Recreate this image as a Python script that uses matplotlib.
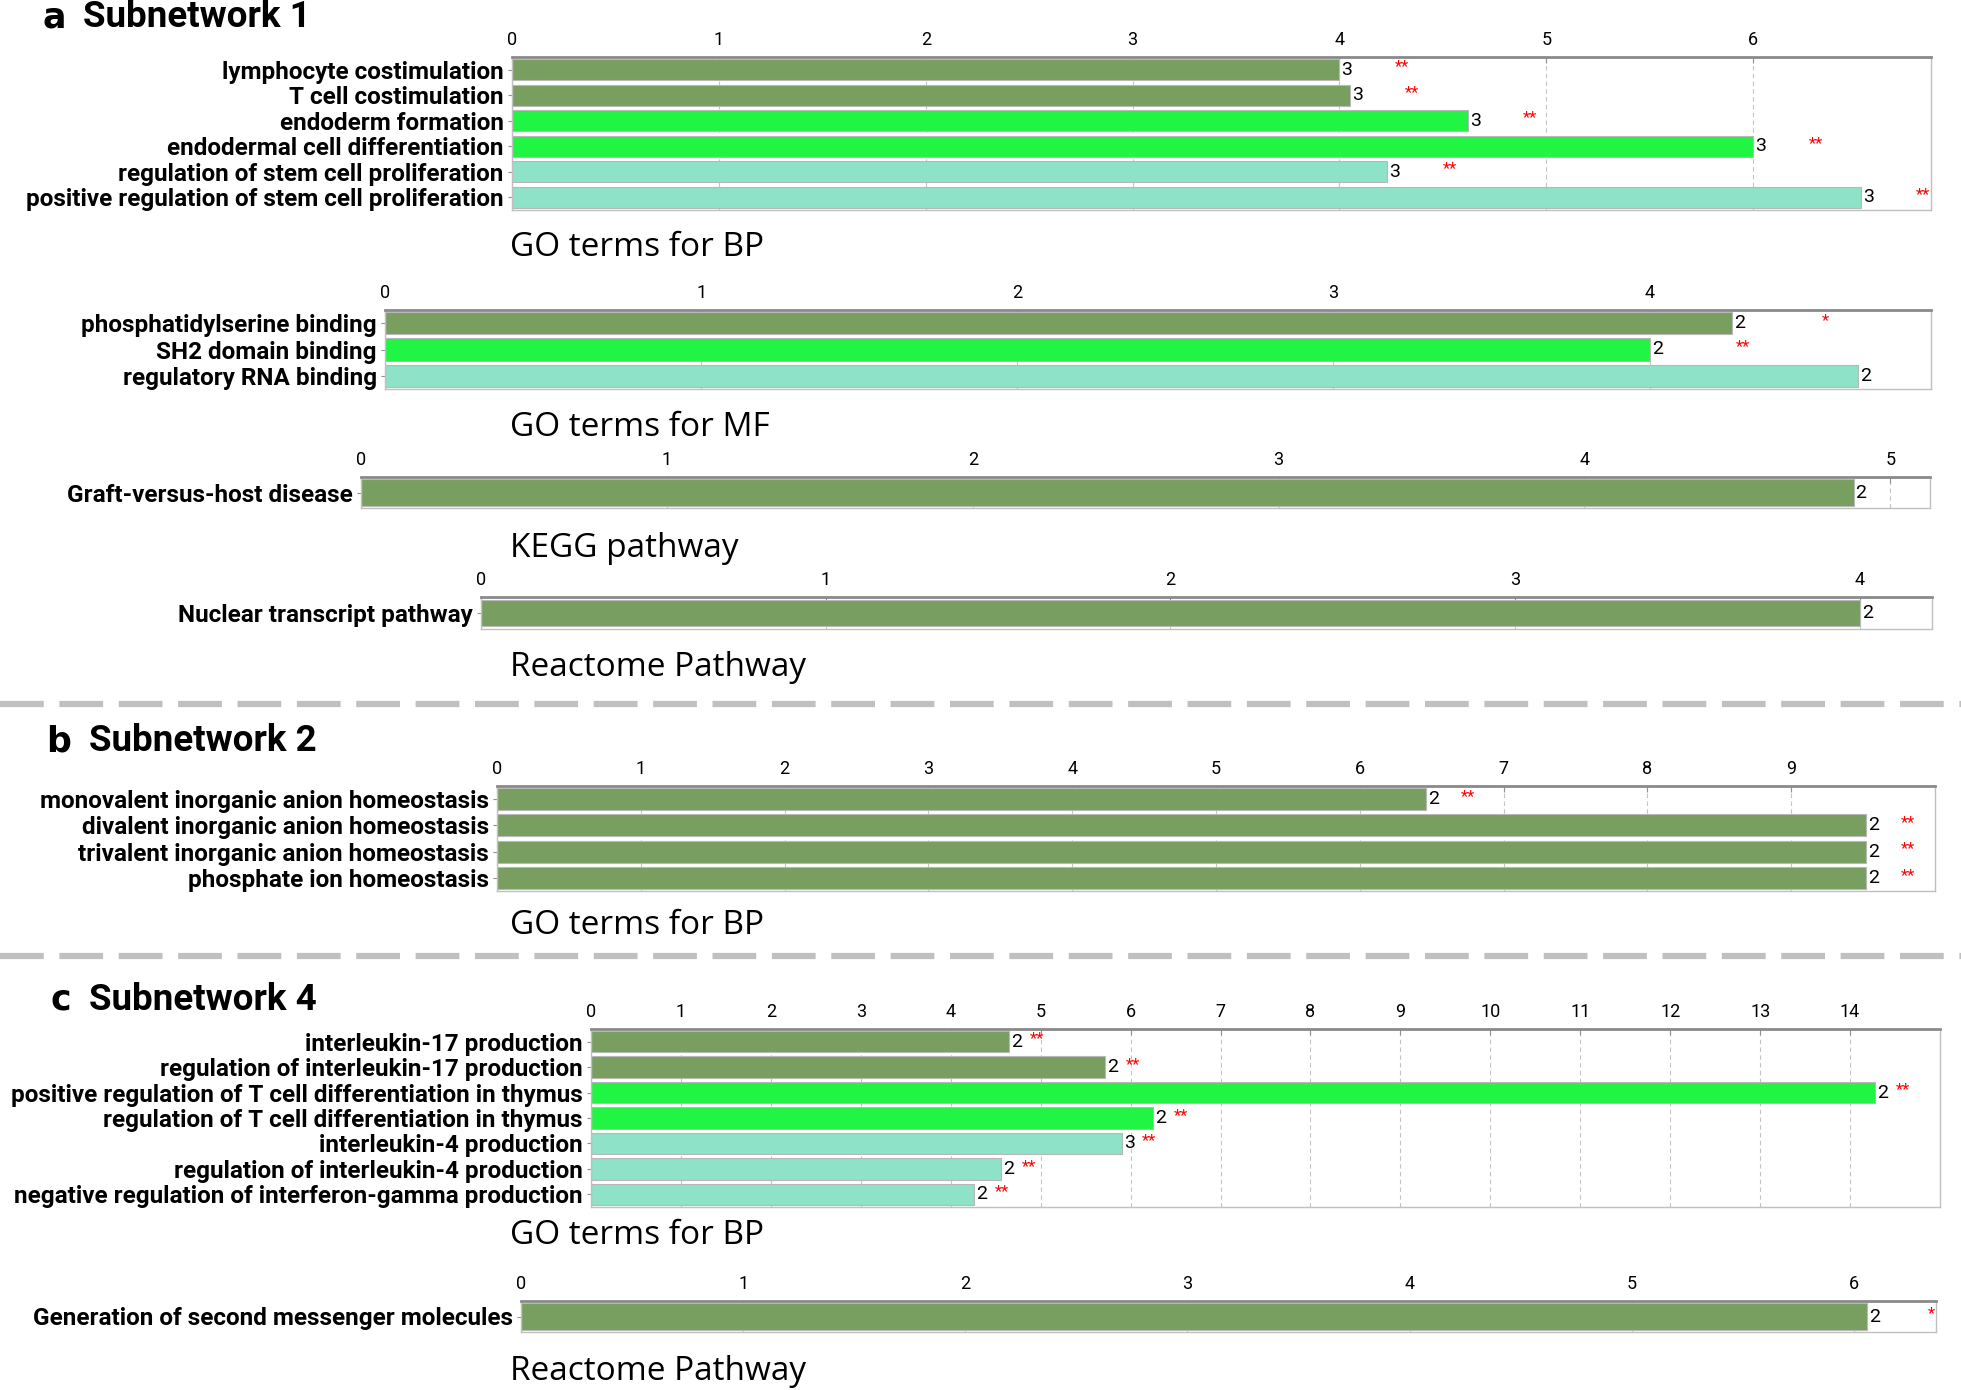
import matplotlib
matplotlib.use('Agg')
import matplotlib.pyplot as plt
from matplotlib import font_manager
from matplotlib.lines import Line2D
import numpy as np

# ---- data -------------------------------------------------------------
# group index -> bar colour (0 dark green, 1 bright green, 2 aquamarine)
a_bp_terms = ['lymphocyte costimulation', 'T cell costimulation', 'endoderm formation',
              'endodermal cell differentiation', 'regulation of stem cell proliferation',
              'positive regulation of stem cell proliferation']
a_bp_values = [4.0, 4.05, 4.62, 6.0, 4.23, 6.52]
a_bp_counts = [3, 3, 3, 3, 3, 3]
a_bp_stars = ['**', '**', '**', '**', '**', '**']
a_bp_groups = [0, 0, 1, 1, 2, 2]

a_mf_terms = ['phosphatidylserine binding', 'SH2 domain binding', 'regulatory RNA binding']
a_mf_values = [4.26, 4.0, 4.66]
a_mf_counts = [2, 2, 2]
a_mf_stars = ['*', '**', '']
a_mf_groups = [0, 1, 2]

a_kegg_terms = ['Graft-versus-host disease']
a_kegg_values = [4.88]
a_kegg_counts = [2]
a_kegg_stars = ['']
a_kegg_groups = [0]

a_react_terms = ['Nuclear transcript pathway']
a_react_values = [4.0]
a_react_counts = [2]
a_react_stars = ['']
a_react_groups = [0]

b_bp_terms = ['monovalent inorganic anion homeostasis', 'divalent inorganic anion homeostasis',
              'trivalent inorganic anion homeostasis', 'phosphate ion homeostasis']
b_bp_values = [6.46, 9.52, 9.52, 9.52]
b_bp_counts = [2, 2, 2, 2]
b_bp_stars = ['**', '**', '**', '**']
b_bp_groups = [0, 0, 0, 0]

c_bp_terms = ['interleukin-17 production', 'regulation of interleukin-17 production',
              'positive regulation of T cell differentiation in thymus',
              'regulation of T cell differentiation in thymus', 'interleukin-4 production',
              'regulation of interleukin-4 production',
              'negative regulation of interferon-gamma production']
c_bp_values = [4.65, 5.72, 14.28, 6.25, 5.9, 4.56, 4.26]
c_bp_counts = [2, 2, 2, 2, 3, 2, 2]
c_bp_stars = ['**', '**', '**', '**', '**', '**', '**']
c_bp_groups = [0, 0, 1, 1, 2, 2, 2]

c_react_terms = ['Generation of second messenger molecules']
c_react_values = [6.06]
c_react_counts = [2]
c_react_stars = ['*']
c_react_groups = [0]

palette = ['#789f5f', '#1ff542', '#8de2c8']

# ---- fonts ------------------------------------------------------------
available = {f.name for f in font_manager.fontManager.ttflist}
narrow = 'Liberation Sans Narrow' if 'Liberation Sans Narrow' in available else 'Roboto'
plt.rcParams['font.family'] = [narrow, 'DejaVu Sans']

W, H = 1961, 1390
fig = plt.figure(figsize=(W / 100, H / 100), dpi=100)


def px_axes(x0, x1, ytop, ybot):
    """Axes from pixel box (full size reference coordinates)."""
    return fig.add_axes([x0 / W, 1 - ybot / H, (x1 - x0) / W, (ybot - ytop) / H])


def draw_panel(box, xmax, terms, values, counts, stars, groups, star_off, subtitle, sub_y):
    ax = px_axes(*box)
    y = np.arange(len(terms))
    cols = [palette[g] for g in groups]
    ax.barh(y, values, height=0.84, color=cols, edgecolor='#b8b8b8', linewidth=0.8, zorder=2)
    ax.set_ylim(len(terms) - 0.5, -0.5)
    ax.set_xlim(0, xmax)
    ax.set_yticks(y)
    ax.set_yticklabels(terms, fontsize=17.5, fontweight='bold')
    ax.set_xticks(np.arange(0, int(np.ceil(xmax - 1e-6))))
    ax.xaxis.tick_top()
    ax.tick_params(axis='x', labelsize=13, length=4, color='#909090', pad=6, direction='in')
    ax.tick_params(axis='y', length=3, color='#909090', pad=3)
    ax.grid(axis='x', color='#c4c4c4', linestyle=(0, (4, 3)), linewidth=0.8, zorder=0)
    for side in ['left', 'right', 'bottom']:
        ax.spines[side].set_color('#c0c0c0')
        ax.spines[side].set_linewidth(1.0)
    ax.spines['top'].set_color('#8a8a8a')
    ax.spines['top'].set_linewidth(2.0)
    for yi, v, c, s in zip(y, values, counts, stars):
        ax.annotate(str(c), xy=(v, yi), xytext=(1.5, 0), textcoords='offset points',
                    ha='left', va='center', fontsize=14)
        if s:
            ax.annotate(s, xy=(v, yi), xytext=(star_off, 2), textcoords='offset points',
                        ha='center', va='center', fontsize=12, color='red')
    fig.text(510 / W, 1 - sub_y / H, subtitle, fontsize=24, ha='left', va='center',
             family=['Open Sans', 'DejaVu Sans'])
    return ax


# panel a
fig.text(42 / W, 1 - 17 / H, 'a', fontsize=25, fontweight='bold', va='center',
         family=['DejaVu Sans'])
fig.text(83 / W, 1 - 17 / H, 'Subnetwork 1', fontsize=26.5, fontweight='bold', va='center')
draw_panel((512, 1931, 57, 210), 6.86, a_bp_terms, a_bp_values, a_bp_counts, a_bp_stars,
           a_bp_groups, 45, 'GO terms for BP', 247)
draw_panel((385, 1931, 310, 389), 4.89, a_mf_terms, a_mf_values, a_mf_counts, a_mf_stars,
           a_mf_groups, 67, 'GO terms for MF', 428)
draw_panel((361, 1930, 477, 508), 5.13, a_kegg_terms, a_kegg_values, a_kegg_counts,
           a_kegg_stars, a_kegg_groups, 45, 'KEGG pathway', 548)
draw_panel((481, 1932, 597, 629), 4.21, a_react_terms, a_react_values, a_react_counts,
           a_react_stars, a_react_groups, 45, 'Reactome Pathway', 668)

# panel b
fig.text(46 / W, 1 - 741 / H, 'b', fontsize=25, fontweight='bold', va='center',
         family=['DejaVu Sans'])
fig.text(89 / W, 1 - 741 / H, 'Subnetwork 2', fontsize=26.5, fontweight='bold', va='center')
draw_panel((497, 1935, 786, 891), 10.0, b_bp_terms, b_bp_values, b_bp_counts, b_bp_stars,
           b_bp_groups, 30, 'GO terms for BP', 926)

# panel c
fig.text(50 / W, 1 - 1000 / H, 'c', fontsize=25, fontweight='bold', va='center',
         family=['DejaVu Sans'])
fig.text(89 / W, 1 - 1000 / H, 'Subnetwork 4', fontsize=26.5, fontweight='bold', va='center')
draw_panel((591, 1940, 1029, 1207), 15.0, c_bp_terms, c_bp_values, c_bp_counts, c_bp_stars,
           c_bp_groups, 20, 'GO terms for BP', 1235)
draw_panel((521, 1936, 1301, 1332), 6.37, c_react_terms, c_react_values, c_react_counts,
           c_react_stars, c_react_groups, 46, 'Reactome Pathway', 1371)

# dashed separators between subnetworks
for ys in [704, 956]:
    fig.add_artist(Line2D([0, 1], [1 - ys / H, 1 - ys / H], transform=fig.transFigure,
                          color='#c0c0c0', linewidth=4.5, linestyle=(0, (7, 2.5))))

fig.savefig('out.png', dpi=100, facecolor='white')
